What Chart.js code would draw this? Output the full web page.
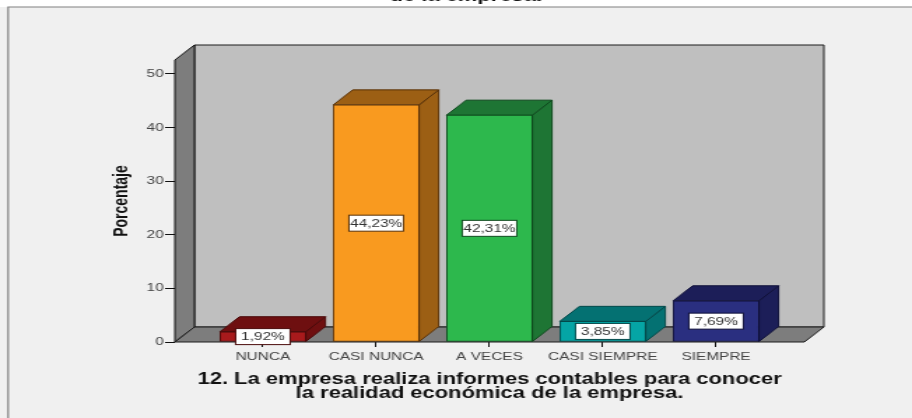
<!DOCTYPE html>
<html lang="es">
<head>
  <meta charset="UTF-8" />
  <title>Informes contables</title>
  <script src="https://cdn.jsdelivr.net/npm/chart.js@4"></script>
  <style>
    html, body { margin: 0; padding: 0; background: white; overflow: hidden; }
    /* the original picture is stretched sideways and a bit soft, so the whole canvas is too */
    #wrap { width: 652px; height: 418px; transform: scaleX(1.3988); transform-origin: 0 0; }
    canvas { display: block; filter: blur(0.4px); }
  </style>
</head>
<body>
  <div id="wrap"><canvas id="chart" width="652" height="418"></canvas></div>

  <script>
    const categories = ['NUNCA', 'CASI NUNCA', 'A VECES', 'CASI SIEMPRE', 'SIEMPRE'];
    const percentages = [1.92, 44.23, 42.31, 3.85, 7.69];
    const yTicks = [0, 10, 20, 30, 40, 50];
    const clippedTitle = 'de la empresa.';
    const xTitle = ['12. La empresa realiza informes contables para conocer', 'la realidad económica de la empresa.'];
    const yTitle = 'Porcentaje';

    const faceColors = ['#a81a1c', '#f99a1f', '#2db84d', '#05a5a5', '#2a2f80'];
    const sideColors = ['#6e0f10', '#9c5f14', '#1e7534', '#047172', '#1c1e58'];
    const edgeColors = ['#4a0a0a', '#5a3208', '#0f4a1e', '#03494a', '#10113a'];

    const depthX = 14;
    const depthY = 15;
    const titleFont = 'bold 15.7px "Liberation Sans"';

    function poly(ctx, pts, fill, stroke) {
      ctx.beginPath();
      pts.forEach((p, i) => i ? ctx.lineTo(p[0], p[1]) : ctx.moveTo(p[0], p[1]));
      ctx.closePath();
      ctx.fillStyle = fill;
      ctx.fill();
      ctx.strokeStyle = stroke;
      ctx.lineWidth = 1;
      ctx.stroke();
    }

    const framePlugin = {
      id: 'frame',
      beforeDraw(chart) {
        const ctx = chart.ctx;
        ctx.save();
        ctx.fillStyle = '#f0f0f0';
        ctx.fillRect(0, 7, chart.width, chart.height - 7);
        ctx.strokeStyle = '#808080';
        ctx.lineWidth = 1.2;
        ctx.beginPath();
        ctx.moveTo(chart.width, 7);
        ctx.lineTo(5.8, 7);
        ctx.lineTo(5.8, chart.height);
        ctx.stroke();
        ctx.fillStyle = '#111';
        ctx.font = titleFont;
        ctx.textAlign = 'center';
        ctx.fillText(clippedTitle, 333, 0.5);
        ctx.restore();
      }
    };

    const boxPlugin = {
      id: 'box3d',
      beforeDatasetsDraw(chart) {
        const ctx = chart.ctx;
        const { left: L, right: R, top: T, bottom: B } = chart.chartArea;
        ctx.save();
        ctx.lineJoin = 'round';
        poly(ctx, [[L + depthX, T - depthY], [R + depthX, T - depthY], [R + depthX, B - depthY], [L + depthX, B - depthY]], '#bfbfbf', '#1c1c1c');
        poly(ctx, [[L, T], [L + depthX, T - depthY], [L + depthX, B - depthY], [L, B]], '#7d7d7d', '#111');
        poly(ctx, [[L, B], [L + depthX, B - depthY], [R + depthX, B - depthY], [R, B]], '#7d7d7d', '#1c1c1c');

        chart.getDatasetMeta(0).data.forEach((bar, i) => {
          const x0 = bar.x - bar.width / 2;
          const x1 = bar.x + bar.width / 2;
          poly(ctx, [[x1, bar.y], [x1 + depthX, bar.y - depthY], [x1 + depthX, bar.base - depthY], [x1, bar.base]], sideColors[i], edgeColors[i]);
          poly(ctx, [[x0, bar.y], [x0 + depthX, bar.y - depthY], [x1 + depthX, bar.y - depthY], [x1, bar.y]], sideColors[i], edgeColors[i]);
        });
        ctx.restore();
      },
      afterDatasetsDraw(chart) {
        const ctx = chart.ctx;
        ctx.save();
        ctx.font = '11px "Liberation Sans"';
        ctx.textAlign = 'center';
        ctx.textBaseline = 'middle';
        chart.getDatasetMeta(0).data.forEach((bar, i) => {
          const cy = (bar.y + bar.base) / 2;
          const w = 39;
          const h = 16;
          ctx.fillStyle = 'white';
          ctx.fillRect(bar.x - w / 2, cy - h / 2, w, h);
          ctx.strokeStyle = edgeColors[i];
          ctx.lineWidth = 1;
          ctx.strokeRect(bar.x - w / 2, cy - h / 2, w, h);
          ctx.fillStyle = '#333';
          ctx.fillText(percentages[i].toFixed(2).replace('.', ',') + '%', bar.x, cy + 0.5);
        });
        ctx.restore();
      }
    };

    new Chart(document.getElementById('chart'), {
      type: 'bar',
      data: {
        datasets: [{
          data: percentages.map((v, i) => ({ x: i, y: v })),
          backgroundColor: faceColors,
          borderColor: edgeColors,
          borderWidth: 1,
          borderSkipped: false,
          barThickness: 61.4
        }]
      },
      plugins: [framePlugin, boxPlugin],
      options: {
        responsive: false,
        animation: false,
        layout: { padding: { top: 60, right: 77, left: 0, bottom: 0 } },
        plugins: { legend: { display: false }, tooltip: { enabled: false } },
        scales: {
          x: {
            type: 'linear',
            offset: false,
            min: -0.777,
            max: 4.779,
            afterBuildTicks: s => { s.ticks = categories.map((c, i) => ({ value: i })); },
            afterFit: s => { s.height = 76; },
            border: { display: false },
            grid: { offset: false, drawOnChartArea: false, tickLength: 5, color: '#111', tickWidth: 1 },
            ticks: {
              callback: v => categories[v],
              autoSkip: false,
              maxRotation: 0,
              padding: 3,
              color: '#444',
              font: { family: 'Liberation Sans', size: 11 }
            },
            title: {
              display: true,
              text: xTitle,
              color: '#111',
              padding: { top: 0, bottom: 17 },
              font: { family: 'Liberation Sans', size: 15.7, weight: 'bold', lineHeight: '14px' }
            }
          },
          y: {
            min: 0,
            max: 52.6,
            afterBuildTicks: s => { s.ticks = yTicks.map(v => ({ value: v })); },
            afterFit: s => { s.width = 125; },
            border: { display: false },
            grid: { drawOnChartArea: false, tickLength: 7, color: '#111', tickWidth: 1 },
            ticks: {
              padding: 1,
              color: '#444',
              font: { family: 'Liberation Sans', size: 11 }
            },
            title: {
              display: true,
              text: yTitle,
              color: '#111',
              padding: { top: 79, bottom: 0 },
              font: { family: 'Liberation Sans', size: 14, weight: 'bold' }
            }
          }
        }
      }
    });
  </script>
</body>
</html>
